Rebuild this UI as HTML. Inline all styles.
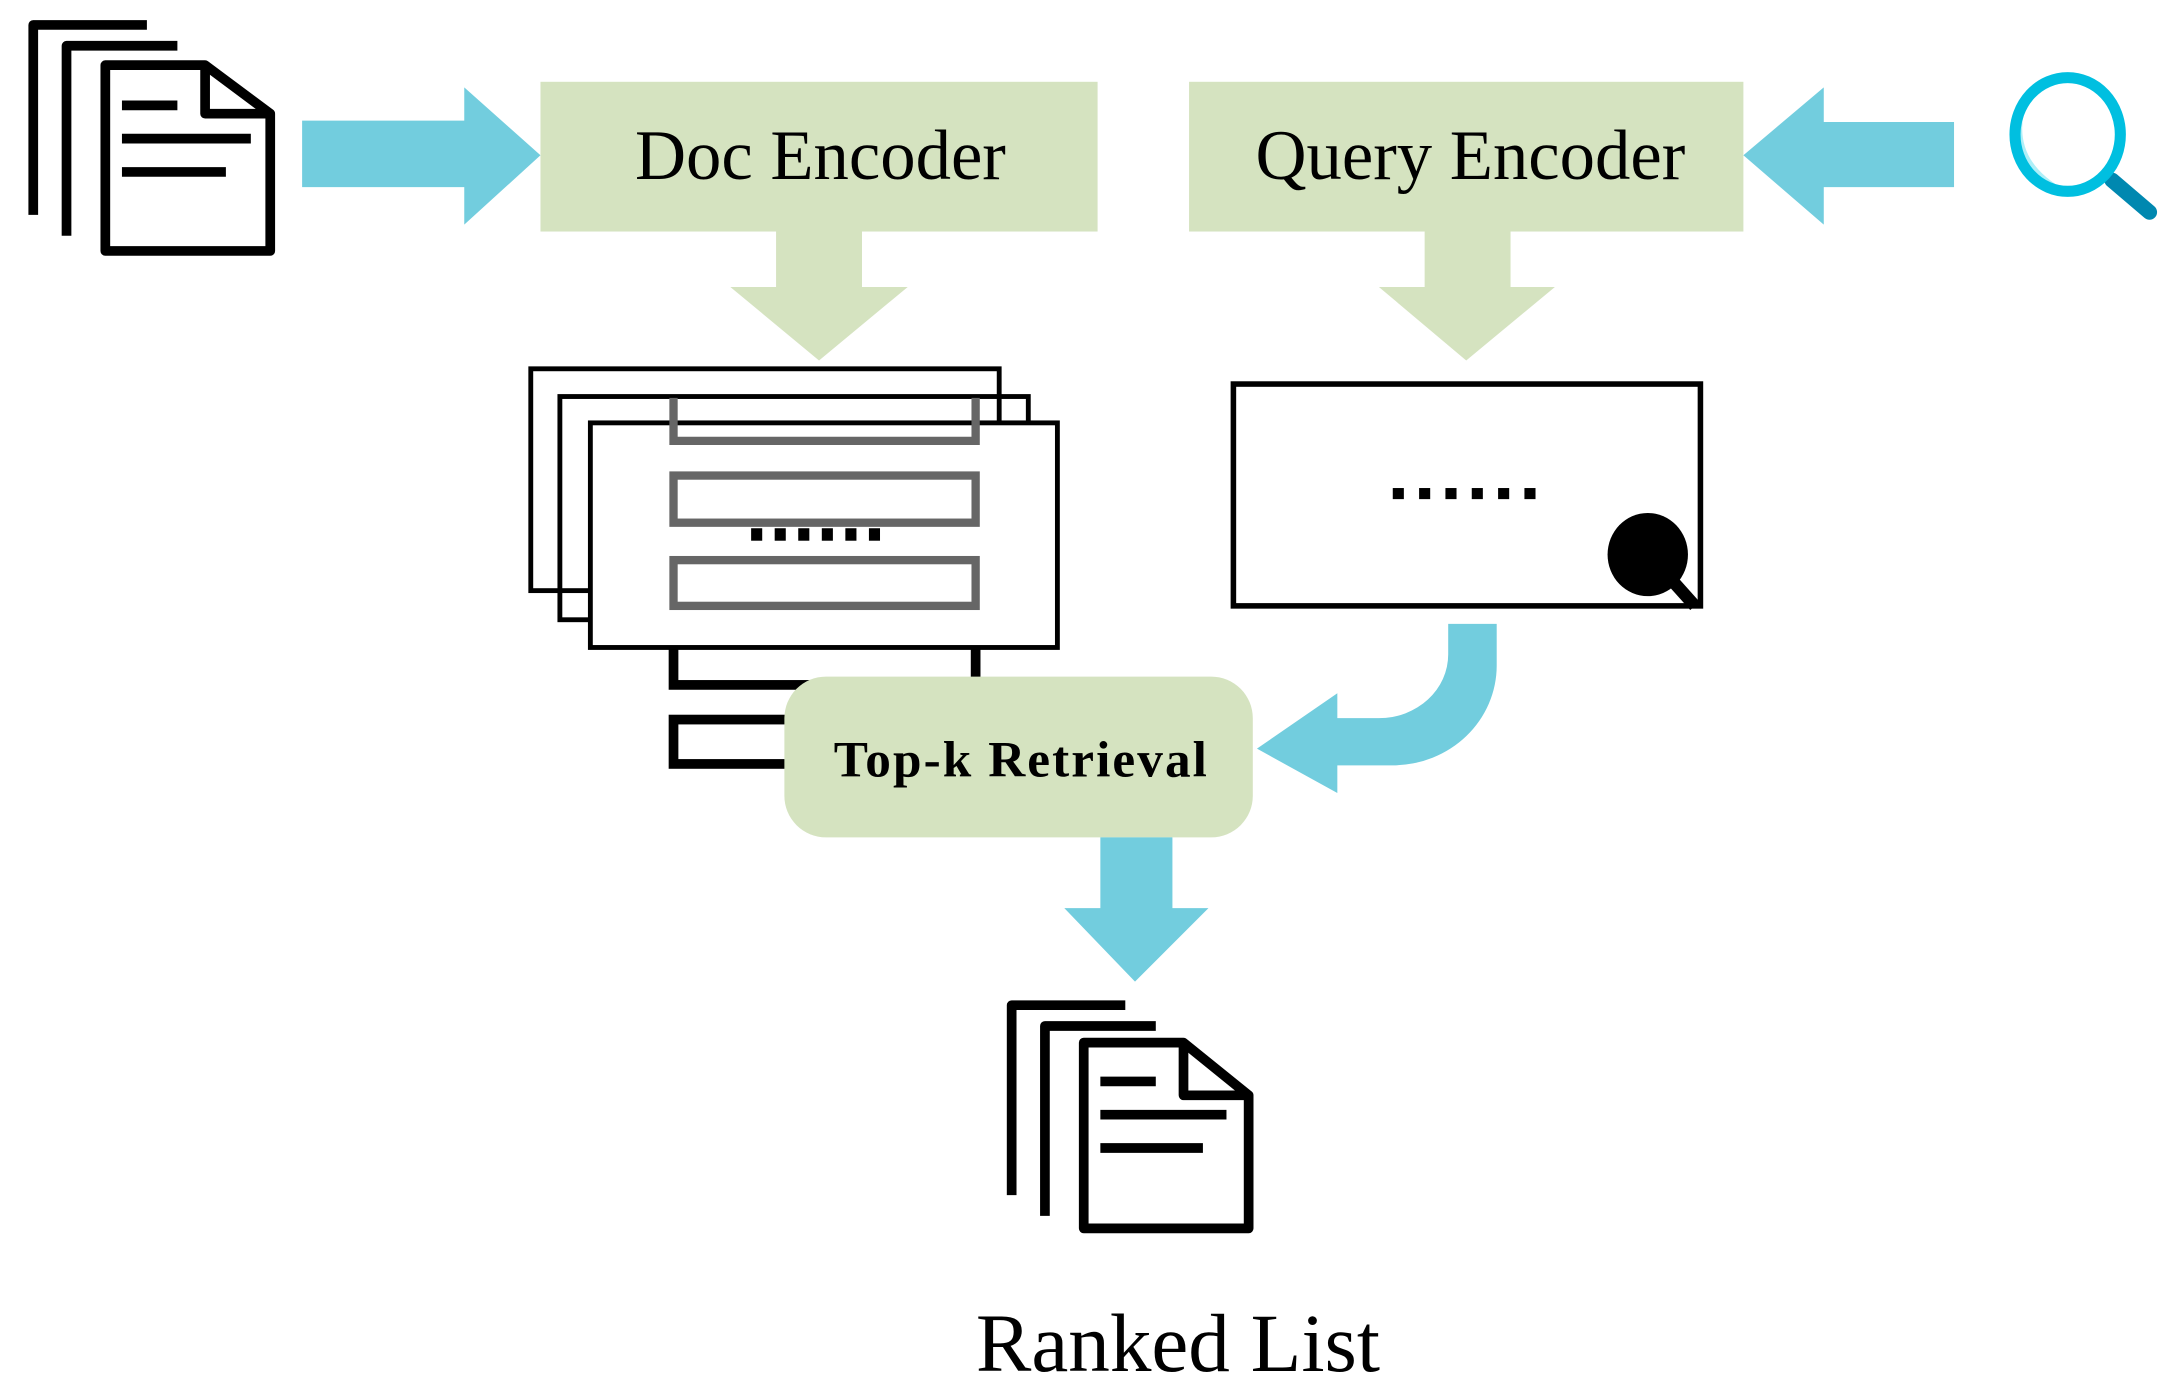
<!DOCTYPE html>
<html><head><style>html,body{margin:0;padding:0;background:#fff;width:2173px;height:1392px;overflow:hidden}</style></head>
<body>
<svg width="2173" height="1392" viewBox="0 0 1568 1004" preserveAspectRatio="none" xmlns="http://www.w3.org/2000/svg">
<g fill="none" stroke="#000" stroke-width="7" stroke-linejoin="round">
 <path d="M106,18 H24 V155"/>
 <path d="M128,33 H48 V170"/>
 <path d="M76,47 H148 L195,82 V181 H76 Z"/>
 <path d="M148,47 V82 H195"/>
 <path d="M88,76 H128 M88,100 H181 M88,124 H163"/>
 <path d="M812,725 H730 V862"/>
 <path d="M834,740 H754 V877"/>
 <path d="M782,752 H854 L901,790 V886 H782 Z"/>
 <path d="M854,752 V790 H901"/>
 <path d="M794,780 H834 M794,804 H885 M794,828 H868"/>
</g>
<path d="M218,87 H335 V63 L390,112 L335,162 V135 H218 Z" fill="#72CDDE"/>
<rect x="390" y="59" width="402" height="108" fill="#D5E3C0"/>
<text x="592" y="129" font-family="Liberation Serif, serif" font-size="51" text-anchor="middle">Doc Encoder</text>
<path d="M560,167 H622 V207 H655 L591,260 L527,207 H560 Z" fill="#D5E3C0"/>
<rect x="858" y="59" width="400" height="108" fill="#D5E3C0"/>
<text x="1061" y="129" font-family="Liberation Serif, serif" font-size="51" text-anchor="middle">Query Encoder</text>
<path d="M1028,167 H1090 V207 H1122 L1058,260 L995,207 H1028 Z" fill="#D5E3C0"/>
<path d="M1410,88 H1316 V63 L1258,112 L1316,162 V135 H1410 Z" fill="#72CDDE"/>
<path d="M1524,130 L1551,153" stroke="#0088B0" stroke-width="11" stroke-linecap="round"/>
<path d="M1463,72 Q1448,115 1492,138 L1478,138 Q1446,118 1458,82 Z" fill="#AEEFF8"/>
<ellipse cx="1492" cy="97" rx="38" ry="41" fill="none" stroke="#00BFE0" stroke-width="8"/>
<rect x="890" y="277" width="337" height="160" fill="#fff" stroke="#000" stroke-width="4"/>
<g fill="#000">
 <rect x="1005" y="352" width="8" height="8"/><rect x="1024" y="352" width="8" height="8"/><rect x="1043" y="352" width="8" height="8"/><rect x="1062" y="352" width="8" height="8"/><rect x="1081" y="352" width="8" height="8"/><rect x="1100" y="352" width="8" height="8"/>
 <ellipse cx="1189" cy="400" rx="29" ry="30"/>
</g>
<path d="M1206,418 L1223,437" stroke="#000" stroke-width="9"/>
<g fill="none" stroke="#000" stroke-width="7">
 <rect x="486" y="461" width="218" height="33"/>
 <rect x="486" y="519" width="218" height="32"/>
</g>
<g fill="none" stroke="#000" stroke-width="3.5">
 <rect x="383" y="266" width="338" height="160"/>
 <rect x="404" y="286" width="338" height="161"/>
 <rect x="426" y="305" width="337" height="162" fill="#fff"/>
</g>
<g fill="none" stroke="#666" stroke-width="6">
 <path d="M486,287 V318 H704 V287"/>
 <rect x="486" y="343" width="218" height="34"/>
 <rect x="486" y="404" width="218" height="33"/>
</g>
<g fill="#000">
 <rect x="542" y="381" width="8" height="9"/><rect x="559" y="381" width="8" height="9"/><rect x="576" y="381" width="8" height="9"/><rect x="593" y="381" width="8" height="9"/><rect x="610" y="381" width="8" height="9"/><rect x="627" y="381" width="8" height="9"/>
</g>
<path d="M1045,450 H1080 V480 A75,72 0 0 1 1005,552 H965 V572 L907,540 L965,500 V518 H995 A50,46 0 0 0 1045,472 Z" fill="#72CDDE"/>
<rect x="566" y="488" width="338" height="116" rx="30" fill="#D5E3C0"/>
<text x="737" y="560" font-family="Liberation Serif, serif" font-size="37" font-weight="bold" text-anchor="middle" letter-spacing="1.5">Top-k Retrieval</text>
<path d="M794,604 H846 V655 H872 L819,708 L768,655 H794 Z" fill="#72CDDE"/>
<text x="850" y="989" font-family="Liberation Serif, serif" font-size="60" text-anchor="middle">Ranked List</text>
</svg>
</body></html>
